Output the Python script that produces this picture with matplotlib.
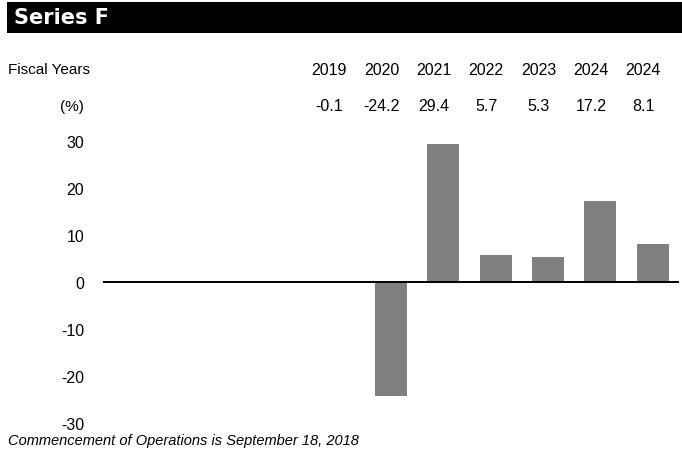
import matplotlib
matplotlib.use("Agg")
import matplotlib.pyplot as plt
from matplotlib.patches import Rectangle

years = ["2019", "2020", "2021", "2022", "2023", "2024", "2024"]
returns = [-0.1, -24.2, 29.4, 5.7, 5.3, 17.2, 8.1]
value_labels = ["-0.1", "-24.2", "29.4", "5.7", "5.3", "17.2", "8.1"]
yticks = [-30, -20, -10, 0, 10, 20, 30]

plt.rcParams['font.family'] = ['Liberation Sans', 'DejaVu Sans']

fig = plt.figure(figsize=(6.82, 4.64), dpi=100)

# black title banner
fig.patches.append(Rectangle((0.0103, 0.9267), 0.99, 0.0668, transform=fig.transFigure,
                             facecolor='black', edgecolor='none'))
fig.text(0.021, 0.961, "Series F", color='white', fontsize=15, fontweight='bold',
         va='center', ha='left', family='DejaVu Sans')

ax = fig.add_axes([0.151, 0.0862, 0.8446, 0.608])
x = list(range(len(years)))
ax.bar(x, returns, width=0.61, color='#808080')
ax.axhline(0, color='black', lw=1.4)
ax.set_xlim(-4.5, 6.5)
ax.set_ylim(-30, 30)
ax.set_yticks(yticks)
ax.set_yticklabels([str(t) for t in yticks], fontsize=11.5)
ax.set_xticks([])
ax.tick_params(axis='y', length=0, pad=13.5)
for s in ax.spines.values():
    s.set_visible(False)

# header rows above the plot
fig.text(0.012, 0.849, "Fiscal Years", fontsize=11, va='center', ha='left')
fig.text(0.123, 0.77, "(%)", fontsize=11, va='center', ha='right')
for i in x:
    xf = fig.transFigure.inverted().transform(ax.transData.transform((i - 0.18, 0)))[0]
    fig.text(xf, 0.849, years[i], fontsize=11.5, va='center', ha='center')
    fig.text(xf, 0.77, value_labels[i], fontsize=11.5, va='center', ha='center')

fig.text(0.012, 0.049, "Commencement of Operations is September 18, 2018", fontsize=10.5,
         style='italic', va='center', ha='left')

fig.savefig("out.png", dpi=100)
